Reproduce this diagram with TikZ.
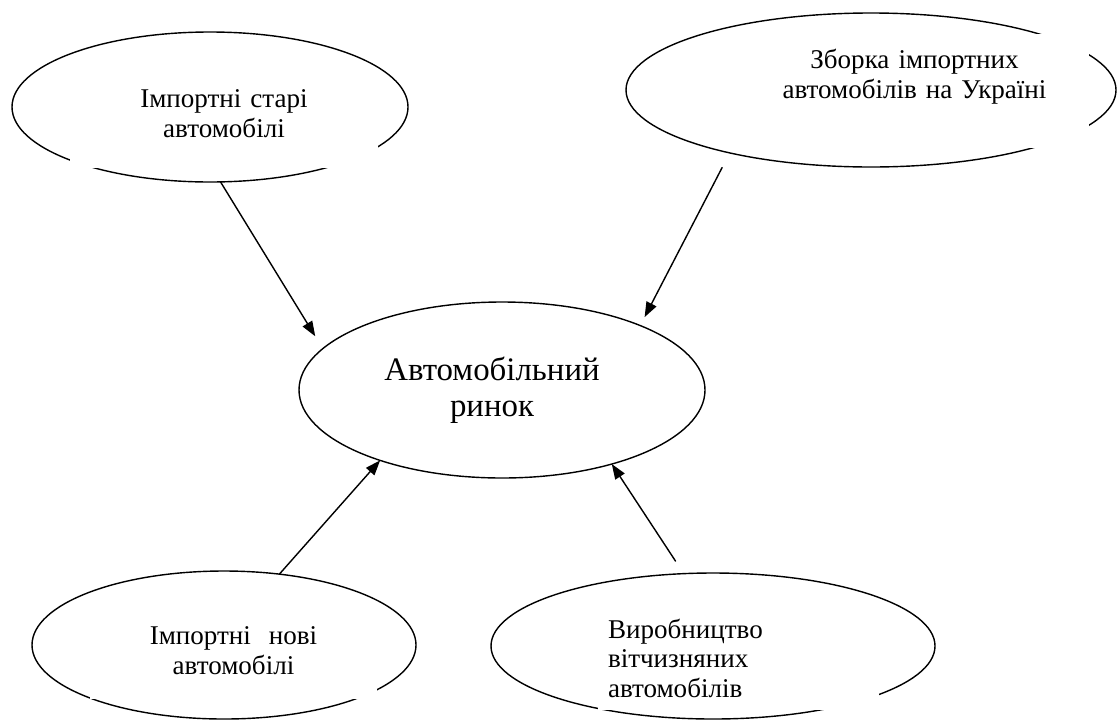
\documentclass[tikz,border=0pt]{standalone}
\usepackage{fontspec}
\setmainfont{Liberation Serif}
\usetikzlibrary{shapes.geometric,arrows.meta}
\begin{document}
\begin{tikzpicture}[line join=round, line cap=round, >={Triangle[length=0.3cm,width=0.22cm]},
	oval/.style={draw, ellipse, line width=0.8pt, inner sep=0pt, outer sep=0pt},
	txtbox/.style={fill=white, anchor=north west, inner xsep=0.2cm, inner ysep=0pt, outer sep=0pt, align=center, font=\fontsize{15.4}{17.6}\selectfont},
	arrow/.style={->, line width=0.8pt}]
	\useasboundingbox (0,0) rectangle (22.38,-14.4);
	
	% Овали
	\foreach \name/\x/\y/\w/\h in {old/4.2/-2.14/7.92/3.0, asm/17.42/-1.8/9.8/3.08, mkt/10.04/-7.8/8.12/3.52, new/4.48/-12.9/7.68/2.96, dom/14.26/-12.92/8.88/2.92} {
		\node[oval, minimum width=\w cm, minimum height=\h cm] (\name) at (\x,\y) {};
	}
	
	% Написи
	\node[txtbox, text width=5.76cm, text height=0.78cm, text depth=1.22cm] (oldtxt) at (1.4,-1.36) {Імпортні старі\\автомобілі};
	\node[txtbox, text width=6.58cm, text height=0.68cm, text depth=1.6cm] (asmtxt) at (14.8,-0.68) {Зборка імпортних\\автомобілів на Україні};
	\node[txtbox, text width=5.0cm, text height=0.8cm, text depth=1.2cm, font=\fontsize{18.7}{21}\selectfont] (mkttxt) at (7.14,-6.8) {Автомобільний\\ринок};
	\node[txtbox, text width=5.34cm, text height=0.68cm, text depth=1.1cm] (newtxt) at (1.8,-12.2) {Імпортні~ нові\\автомобілі};
	\node[txtbox, text width=5.22cm, text height=0.66cm, text depth=1.44cm, align=left, font=\fontsize{15.4}{16.8}\selectfont] (domtxt) at (11.96,-12.1) {Виробництво\\вітчизняних\\автомобілів};
	
	% Стрілки
	\draw[arrow, shorten >=0.29cm] (old.-82) -- (mkt.167);
	\draw[arrow, shorten <=0.33cm, shorten >=0.19cm] (asm.204) -- (mkt.25);
	\draw[arrow] (new.52) -- (mkt.210);
	\draw[arrow, shorten <=0.3cm] (dom.112) -- (mkt.-34);
\end{tikzpicture}
\end{document}
